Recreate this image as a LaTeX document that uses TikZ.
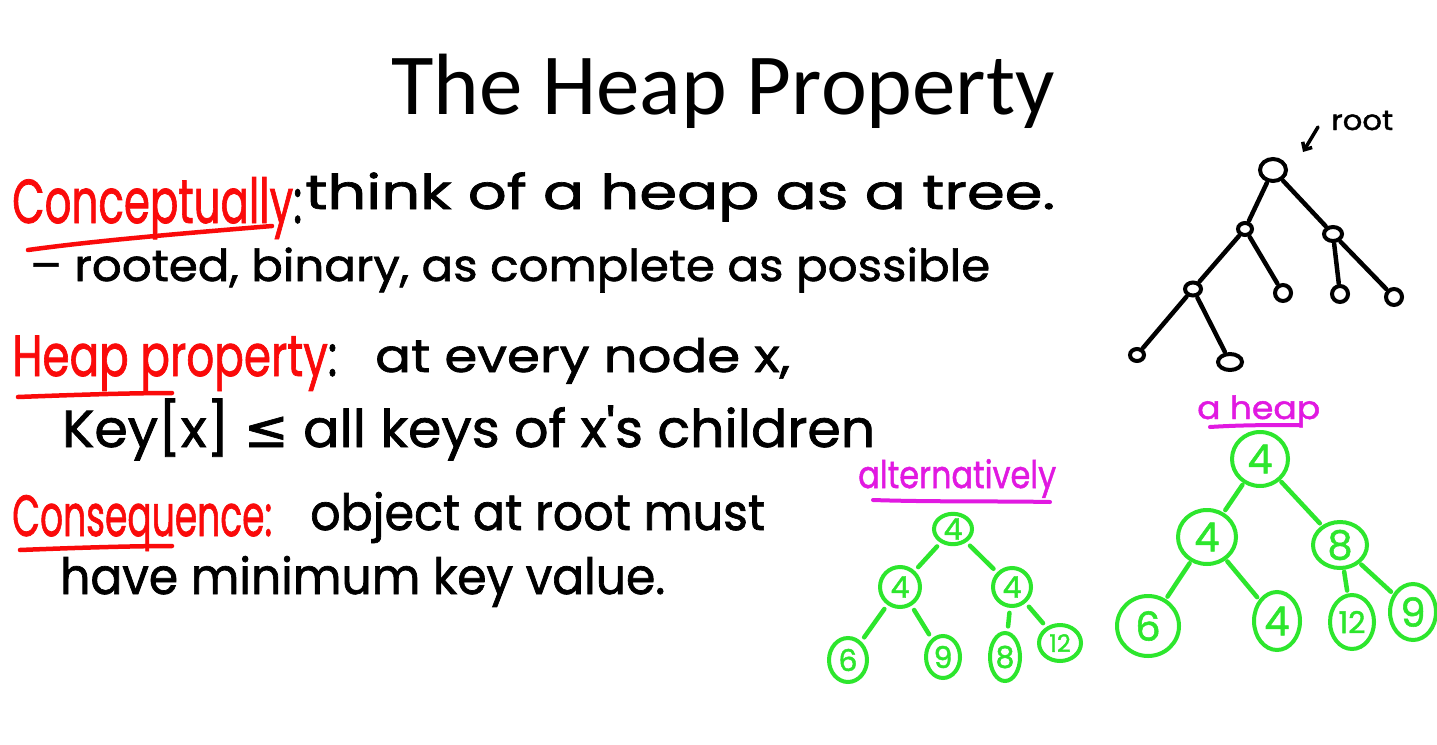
\documentclass[tikz,border=0pt]{standalone}
\usepackage{graphicx}
\usepackage{fontspec}
\setmainfont{Carlito}
\newfontfamily\hand{Poppins}[FakeBold=1.4]
\newfontfamily\symf{DejaVu Sans}[FakeBold=1.4]
\usetikzlibrary{shapes.geometric,arrows.meta}
% squeeze or stretch a line of text to a given width (in pt), keeping its height
\newcommand\fitx[2]{\resizebox{#1pt}{\height}{#2}}
\newcommand\fsz[1]{\fontsize{#1}{#1}\selectfont}
\definecolor{inkred}{RGB}{250,10,10}
\definecolor{inkgreen}{RGB}{45,230,45}
\definecolor{inkpink}{RGB}{225,25,225}
\begin{document}
\begin{tikzpicture}[x=1pt,y=-1pt,
  hw/.style={inner sep=0,anchor=base west,font=\hand\fsz{#1}},
  hw/.default=48,
  pen/.style={line width=4.5,line cap=round,line join=round},
  redline/.style={pen,draw=inkred},
  pinkline/.style={pen,draw=inkpink,line width=4},
  bnode/.style={ellipse,draw,line width=4,inner sep=0,minimum width=#1},
  gnode/.style={ellipse,draw=inkgreen,line width=4,inner sep=0,text=inkgreen},
  gedge/.style={pen,draw=inkgreen,shorten <=5,shorten >=5},
  bedge/.style={pen,shorten <=1,shorten >=1}]
\fill[white] (0,0) rectangle (1437,744);
\useasboundingbox (0,0) rectangle (1437,744);

% title
\node[inner sep=0,anchor=base,font=\fsz{87}] (title) at (723,114) {The Heap Property};

% body text
\node[hw=62] (concept) at (12,223) {\fitx{290}{\color{inkred}Conceptually\color{black}:}};
\node[hw] (think) at (305,209) {\fitx{750}{think of a heap as a tree.}};
\node[hw=44] (rooted) at (30,281) {\fitx{960}{– rooted, binary, as complete as possible}};
\node[hw=58] (heapprop) at (12,376) {\fitx{325}{\color{inkred}Heap property\color{black} :}};
\node[hw=46] (every) at (375,372) {\fitx{415}{at every node x,}};
\node[hw=52] (key) at (62,447) {\fitx{813}{Key[x] {\symf ≤} all keys of x's children}};
\node[hw=58] (conseq) at (12,536) {\fitx{260}{\color{inkred}Consequence:}};
\node[hw=50] (object) at (310,530) {\fitx{455}{object at root must}};
\node[hw=50] (minkey) at (60,594) {\fitx{605}{have minimum key value.}};

% red underlines
\draw[redline] (28,250) .. controls (100,240) and (200,232) .. (272,226);
\draw[redline] (18,397) .. controls (70,395) and (130,393) .. (172,393);
\draw[redline] (20,550) .. controls (70,548) and (130,546) .. (172,546);

% black tree shape
\node[bnode=26,minimum height=22] (r) at (1273,170) {};
\node[bnode=14,minimum height=12] (a) at (1245,229) {};
\node[bnode=18,minimum height=14] (b) at (1333,234) {};
\node[bnode=16,minimum height=13] (c) at (1193,289) {};
\node[bnode=16,minimum height=16] (d) at (1283,293) {};
\node[bnode=16,minimum height=16] (e) at (1340,294) {};
\node[bnode=16,minimum height=16] (f) at (1394,297) {};
\node[bnode=14,minimum height=12] (g) at (1137,355) {};
\node[bnode=24,minimum height=16] (h) at (1230,362) {};
\foreach \u/\v in {r/a,r/b,a/c,a/d,b/e,b/f,c/g,c/h}
  \draw[bedge] (\u) -- (\v);
\node[hw=28,anchor=base west] (rootlbl) at (1331,130) {\fitx{62}{root}};
\coordinate (rootarr) at (1318,127);
\coordinate (roottip) at (1303,152);
\draw[pen,line width=3.5,-{Straight Barb[length=6,width=11]}] (rootarr) -- (roottip);

% "alternatively" tree
\node[hw=38,text=inkpink] (alt) at (858,488) {\fitx{198}{alternatively}};
\draw[pinkline] (873,500) .. controls (930,502) and (1000,501) .. (1050,502);
\begin{scope}[every node/.append style={font=\hand\fsz{30}}]
\node[gnode,minimum width=38,minimum height=30] (A0) at (953,529) {4};
\node[gnode,minimum width=40,minimum height=40] (A1) at (900,587) {4};
\node[gnode,minimum width=38,minimum height=38] (A2) at (1012,587) {4};
\node[gnode,minimum width=38,minimum height=44] (A3) at (848,660) {6};
\node[gnode,minimum width=34,minimum height=42] (A4) at (943,657) {9};
\node[gnode,minimum width=30,minimum height=48] (A5) at (1005,657) {8};
\node[gnode,minimum width=42,minimum height=36,font=\hand\fsz{24}] (A6) at (1060,643) {12};
\end{scope}
\foreach \u/\v in {A0/A1,A0/A2,A1/A3,A1/A4,A2/A5,A2/A6}
  \draw[gedge] (\u) -- (\v);

% "a heap" tree
\node[hw=32,text=inkpink] (aheap) at (1197,419) {\fitx{123}{a heap}};
\draw[pinkline] (1210,427) .. controls (1240,425) and (1270,425) .. (1300,425);
\begin{scope}[every node/.append style={font=\hand\fsz{40}}]
\node[gnode,minimum width=56,minimum height=54] (H0) at (1260,459) {4};
\node[gnode,minimum width=58,minimum height=54] (H1) at (1207,537) {4};
\node[gnode,minimum width=54,minimum height=46] (H2) at (1340,545) {8};
\node[gnode,minimum width=62,minimum height=60] (H3) at (1148,626) {6};
\node[gnode,minimum width=46,minimum height=58] (H4) at (1277,621) {4};
\node[gnode,minimum width=44,minimum height=54,font=\hand\fsz{30}] (H5) at (1352,622) {12};
\node[gnode,minimum width=46,minimum height=56] (H6) at (1413,612) {9};
\end{scope}
\foreach \u/\v in {H0/H1,H0/H2,H1/H3,H1/H4,H2/H5,H2/H6}
  \draw[gedge,shorten <=2,shorten >=3] (\u) -- (\v);
\end{tikzpicture}
\end{document}
